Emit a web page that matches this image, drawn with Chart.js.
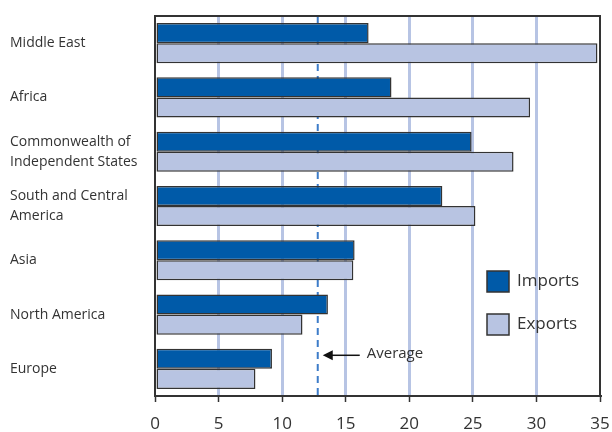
<!DOCTYPE html>
<html>
<head>
<meta charset="utf-8">
<script src="https://cdn.jsdelivr.net/npm/chart.js@4/dist/chart.umd.min.js"></script>
<style>
  html, body { margin: 0; padding: 0; background: #fff; }
  #wrap { width: 612px; height: 432px; }
</style>
</head>
<body>
<div id="wrap"><canvas id="chart" width="612" height="432"></canvas></div>
<script>
const regions = [
  'Middle East',
  'Africa',
  ['Commonwealth of', 'Independent States'],
  ['South and Central', 'America'],
  'Asia',
  'North America',
  'Europe'
];
const imports = [16.8, 18.6, 24.9, 22.6, 15.7, 13.6, 9.2];
const exports = [34.8, 29.5, 28.2, 25.2, 15.6, 11.6, 7.9];
const average = 12.8;
const xTicks = [0, 5, 10, 15, 20, 25, 30, 35];

const FONT = '"Open Sans", "Noto Sans", sans-serif';
const TEXT = '#333333';
const DARK = '#005aa8';
const LIGHT = '#b8c4e2';
const GRID = '#b7c4e4';

// frame around plot, average marker and the inset legend
const extras = {
  id: 'extras',
  beforeDatasetsDraw(chart) {
    const { ctx, chartArea: a, scales: { x } } = chart;
    const ax = x.getPixelForValue(average);
    ctx.save();
    ctx.strokeStyle = '#3d7cc9';
    ctx.lineWidth = 2;
    ctx.setLineDash([7, 5]);
    ctx.beginPath();
    ctx.moveTo(ax, a.top);
    ctx.lineTo(ax, a.bottom);
    ctx.stroke();
    ctx.restore();
  },
  afterDatasetsDraw(chart) {
    const { ctx, chartArea: a, scales: { x, y } } = chart;
    ctx.save();
    ctx.strokeStyle = '#333';
    ctx.lineWidth = 2;
    ctx.strokeRect(a.left, a.top, a.right - a.left, a.bottom - a.top);

    // arrow pointing at the average line
    const ax = x.getPixelForValue(average);
    const band = y.getPixelForValue(1) - y.getPixelForValue(0);
    const ay = y.getPixelForValue(regions.length - 1) - band * 0.25;
    ctx.strokeStyle = '#111';
    ctx.fillStyle = '#111';
    ctx.lineWidth = 1.5;
    ctx.beginPath();
    ctx.moveTo(ax + 14, ay);
    ctx.lineTo(ax + 42, ay);
    ctx.stroke();
    ctx.beginPath();
    ctx.moveTo(ax + 5, ay);
    ctx.lineTo(ax + 15, ay - 5);
    ctx.lineTo(ax + 15, ay + 5);
    ctx.closePath();
    ctx.fill();
    ctx.fillStyle = TEXT;
    ctx.font = '15px ' + FONT;
    ctx.textBaseline = 'middle';
    ctx.fillText('Average', ax + 49, ay - 2);

    // legend
    const items = [['Imports', DARK], ['Exports', LIGHT]];
    const lx = a.right - 113;
    items.forEach(([name, color], i) => {
      const cy = a.bottom - 115 + i * 43;
      ctx.fillStyle = color;
      ctx.fillRect(lx, cy - 10, 22, 21);
      ctx.strokeStyle = '#333';
      ctx.lineWidth = 1.5;
      ctx.strokeRect(lx, cy - 10, 22, 21);
      ctx.fillStyle = TEXT;
      ctx.font = '17px ' + FONT;
      ctx.textBaseline = 'middle';
      ctx.fillText(name, lx + 30, cy);
    });
    ctx.restore();
  }
};

new Chart(document.getElementById('chart'), {
  type: 'bar',
  data: {
    labels: regions,
    datasets: [
      { label: 'Imports', data: imports, backgroundColor: DARK, borderColor: '#333', borderWidth: 1.5, borderSkipped: false },
      { label: 'Exports', data: exports, backgroundColor: LIGHT, borderColor: '#333', borderWidth: 1.5, borderSkipped: false }
    ]
  },
  options: {
    indexAxis: 'y',
    responsive: false,
    animation: false,
    layout: { padding: { left: 10, right: 12, top: 16, bottom: 0 } },
    datasets: { bar: { categoryPercentage: 0.74, barPercentage: 1 } },
    plugins: { legend: { display: false }, tooltip: { enabled: false } },
    scales: {
      x: {
        min: 0,
        max: 35,
        afterBuildTicks: (s) => { s.ticks = xTicks.map(v => ({ value: v })); },
        afterFit: (s) => { s.height = 36; s.paddingLeft = 0; s.paddingRight = 0; },
        border: { display: true, color: '#333', width: 2 },
        grid: {
          color: (c) => (c.tick && (c.tick.value === 0 || c.tick.value === 35)) ? 'rgba(0,0,0,0)' : GRID,
          lineWidth: 3,
          tickColor: '#333',
          tickLength: 6,
          tickWidth: 1.5
        },
        ticks: { color: TEXT, font: { family: FONT, size: 17 }, padding: 12, maxRotation: 0 }
      },
      y: {
        afterFit: (s) => { s.width = 145; },
        border: { display: true, color: '#333', width: 2 },
        grid: { display: false },
        ticks: {
          crossAlign: 'far',
          color: TEXT,
          font: { family: FONT, size: 14, lineHeight: 1.45 },
          padding: 4
        }
      }
    }
  },
  plugins: [extras]
});
</script>
</body>
</html>
